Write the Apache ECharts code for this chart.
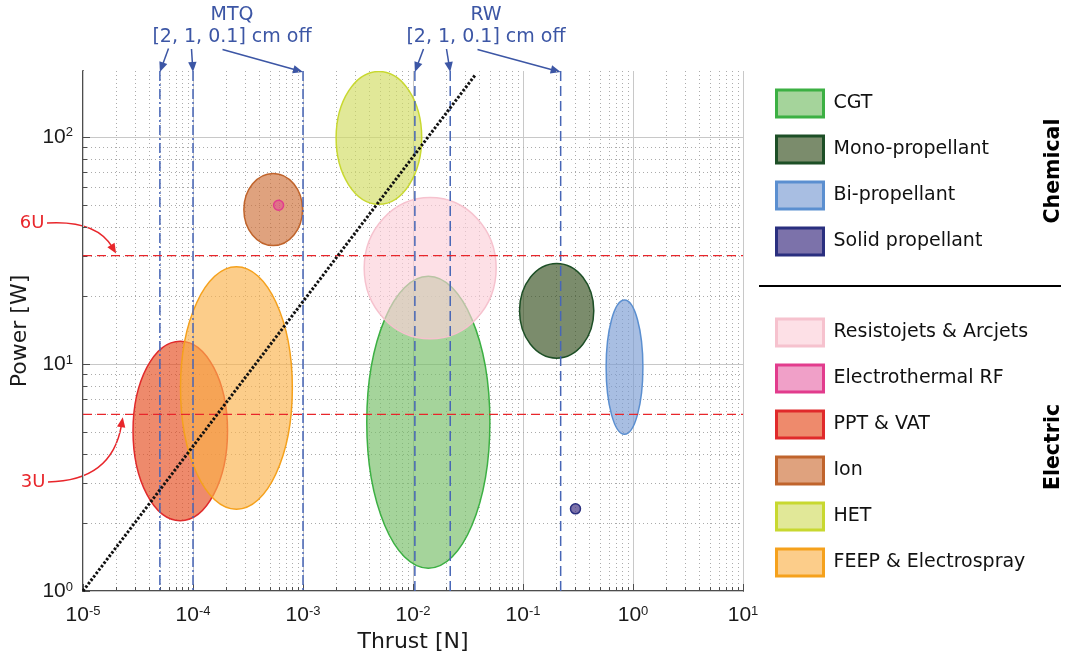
<!DOCTYPE html>
<html>
<head>
<meta charset="utf-8">
<script src="https://cdn.jsdelivr.net/npm/echarts@6/dist/echarts.min.js"></script>
<style>
  html, body { margin: 0; padding: 0; background: #fff; }
  #chart { width: 1067px; height: 659px; }
</style>
</head>
<body>
<div id="chart"></div>
<script>
// ---- Legend groups ----
const chemicalNames = ['CGT', 'Mono-propellant', 'Bi-propellant', 'Solid propellant'];
const electricNames = ['Resistojets & Arcjets', 'Electrothermal RF', 'PPT & VAT', 'Ion', 'HET', 'FEEP & Electrospray'];

// ---- Operating envelopes (drawn in this order, later ones on top) ----
const envelopeNames    = ['HET', 'Ion', 'PPT & VAT', 'FEEP & Electrospray', 'CGT', 'Resistojets & Arcjets', 'Mono-propellant', 'Bi-propellant'];
const envelopeThrustLo = [2.0e-3, 2.9e-4, 2.85e-5, 7.7e-5, 3.8e-3, 3.6e-3, 0.093, 0.57];   // N
const envelopeThrustHi = [1.2e-2, 9.9e-4, 2.06e-4, 8.0e-4, 5.0e-2, 5.7e-2, 0.44, 1.23];    // N
const envelopePowerLo  = [50.5, 33.2, 2.04, 2.29, 1.26, 12.9, 10.6, 4.9];                  // W
const envelopePowerHi  = [194, 69, 12.6, 26.8, 24.3, 54, 27.7, 19.1];                      // W

// ---- Single-point systems ----
const pointNames  = ['Electrothermal RF', 'Solid propellant'];
const pointThrust = [6.0e-4, 0.30];
const pointPower  = [50, 2.3];

// ---- Reference lines ----
const mtqThrust = [5e-5, 1e-4, 1e-3];        // magnetorquer disturbance, [2, 1, 0.1] cm off
const rwThrust  = [0.0104, 0.0218, 0.22];    // reaction wheel, [2, 1, 0.1] cm off
const cubesatPower  = [30, 6];
const cubesatLabels = ['6U', '3U'];
const cubesatArrowThrust = [2e-5, 2.3e-5];
const trendThrust = [1e-5, 0.037];
const trendPower  = [1, 188];

// ---- Axes ----
const thrustMin = 1e-5, thrustMax = 10;
const powerMin = 1, powerMax = 195;
const thrustDecadeExps = [-5, -4, -3, -2, -1, 0, 1];
const powerDecadeExps  = [0, 1, 2];
const minorSteps = [2, 3, 4, 5, 6, 7, 8, 9];

// ---- Colours (appearance over white) ----
const fillColor = {
  'CGT': '#a5d49b', 'Mono-propellant': '#7b8c6c', 'Bi-propellant': '#a8bee2', 'Solid propellant': '#7c72aa',
  'Resistojets & Arcjets': '#fde0e6', 'Electrothermal RF': '#f0a0c8', 'PPT & VAT': '#ee8a6c',
  'Ion': '#dfa27e', 'HET': '#e1e898', 'FEEP & Electrospray': '#fccd8a'
};
const edgeColor = {
  'CGT': '#3cb043', 'Mono-propellant': '#1d4f26', 'Bi-propellant': '#5b8fd0', 'Solid propellant': '#2a2f7f',
  'Resistojets & Arcjets': '#f6c2ce', 'Electrothermal RF': '#e23c8d', 'PPT & VAT': '#e02a2b',
  'Ion': '#c0642c', 'HET': '#c8d830', 'FEEP & Electrospray': '#f5a11c'
};
const FILL_ALPHA = 0.65;
const pointAlpha = { 'Electrothermal RF': 0.5, 'Solid propellant': 0.65 };
const guideBlue = '#4766b6';
const annotBlue = '#3c56a5';
const cubesatRed = '#e8262b';
const inkColor = '#1a1a1a';

// translucent rgba that looks like `hex` when laid over white
function tint(hex, a) {
  const n = parseInt(hex.slice(1), 16);
  const c = [(n >> 16) & 255, (n >> 8) & 255, n & 255].map(v => {
    const b = (v - (1 - a) * 255) / a;
    return Math.max(0, Math.min(255, Math.round(b)));
  });
  return 'rgba(' + c.join(',') + ',' + a + ')';
}

// ---- Grid line data (decades and their 2..9 sub-divisions) ----
const xGridData = [];
thrustDecadeExps.forEach(e => {
  const d = Math.pow(10, e);
  xGridData.push([d, powerMin, 1]);
  if (d < thrustMax) minorSteps.forEach(m => xGridData.push([m * d, powerMin, 0]));
});
const yGridData = [];
powerDecadeExps.forEach(e => {
  const d = Math.pow(10, e);
  yGridData.push([thrustMin, d, 1]);
  minorSteps.forEach(m => { if (m * d < powerMax) yGridData.push([thrustMin, m * d, 0]); });
});

const majorGridStyle = { stroke: '#c8c8c8', lineWidth: 1 };
const minorGridStyle = { stroke: '#ababab', lineWidth: 1, lineDash: [1, 3] };
const tickStyle = { stroke: '#4d4d4d', lineWidth: 1 };

function renderXGrid(params, api) {
  const cs = params.coordSys;
  const x = Math.round(api.coord([api.value(0), api.value(1)])[0]) + 0.5;
  const major = api.value(2) === 1;
  const bottom = cs.y + cs.height;
  return {
    type: 'group',
    children: [
      { type: 'line', shape: { x1: x, y1: cs.y, x2: x, y2: bottom }, style: major ? majorGridStyle : minorGridStyle },
      { type: 'line', shape: { x1: x, y1: bottom, x2: x, y2: bottom - (major ? 7 : 4) }, style: tickStyle }
    ]
  };
}
function renderYGrid(params, api) {
  const cs = params.coordSys;
  const y = Math.round(api.coord([api.value(0), api.value(1)])[1]) + 0.5;
  const major = api.value(2) === 1;
  return {
    type: 'group',
    children: [
      { type: 'line', shape: { x1: cs.x, y1: y, x2: cs.x + cs.width, y2: y }, style: major ? majorGridStyle : minorGridStyle },
      { type: 'line', shape: { x1: cs.x, y1: y, x2: cs.x + (major ? 7 : 4), y2: y }, style: tickStyle }
    ]
  };
}

// full-height / full-width guide lines
function makeVerticalGuide(style) {
  return function (params, api) {
    const cs = params.coordSys;
    const x = api.coord([api.value(0), api.value(1)])[0];
    return { type: 'line', shape: { x1: x, y1: cs.y, x2: x, y2: cs.y + cs.height }, style: style };
  };
}
function makeHorizontalGuide(style) {
  return function (params, api) {
    const cs = params.coordSys;
    const y = api.coord([api.value(0), api.value(1)])[1];
    return { type: 'line', shape: { x1: cs.x, y1: y, x2: cs.x + cs.width, y2: y }, style: style };
  };
}

// ellipse inscribed in the (log-log) thrust/power box
function makeEnvelopeRenderer(name) {
  return function (params, api) {
    const a = api.coord([api.value(0), api.value(2)]);
    const b = api.coord([api.value(1), api.value(3)]);
    return {
      type: 'ellipse',
      shape: {
        cx: (a[0] + b[0]) / 2, cy: (a[1] + b[1]) / 2,
        rx: Math.abs(b[0] - a[0]) / 2, ry: Math.abs(b[1] - a[1]) / 2
      },
      style: { fill: tint(fillColor[name], FILL_ALPHA), stroke: edgeColor[name], lineWidth: 1.5 }
    };
  };
}

const series = [
  { type: 'custom', name: 'xgrid', silent: true, clip: false, z: 1, data: xGridData, encode: { x: 0, y: 1 }, renderItem: renderXGrid },
  { type: 'custom', name: 'ygrid', silent: true, clip: false, z: 1, data: yGridData, encode: { x: 0, y: 1 }, renderItem: renderYGrid }
];

envelopeNames.forEach((name, i) => {
  series.push({
    type: 'custom',
    name: name,
    clip: true,
    z: 2,
    itemStyle: { color: fillColor[name], borderColor: edgeColor[name] },
    data: [[envelopeThrustLo[i], envelopeThrustHi[i], envelopePowerLo[i], envelopePowerHi[i]]],
    encode: { x: [0, 1], y: [2, 3] },
    renderItem: makeEnvelopeRenderer(name)
  });
});

pointNames.forEach((name, i) => {
  series.push({
    type: 'scatter',
    name: name,
    z: 3,
    symbol: 'circle',
    symbolSize: 10,
    itemStyle: { color: tint(fillColor[name], pointAlpha[name]), borderColor: edgeColor[name], borderWidth: 1.5, opacity: 1 },
    data: [[pointThrust[i], pointPower[i]]]
  });
});

// guide lines: MTQ (dash-dot), RW (dashed), CubeSat power (dashed red)
series.push({
  type: 'custom', name: 'mtq', silent: true, clip: false, z: 4,
  data: mtqThrust.map(v => [v, powerMin]), encode: { x: 0, y: 1 },
  renderItem: makeVerticalGuide({ stroke: guideBlue, lineWidth: 1.5, lineDash: [10, 3, 2, 3] })
});
series.push({
  type: 'custom', name: 'rw', silent: true, clip: false, z: 4,
  data: rwThrust.map(v => [v, powerMin]), encode: { x: 0, y: 1 },
  renderItem: makeVerticalGuide({ stroke: guideBlue, lineWidth: 1.5, lineDash: [10, 5] })
});
series.push({
  type: 'custom', name: 'cubesat', silent: true, clip: false, z: 4,
  data: cubesatPower.map(v => [thrustMin, v]), encode: { x: 0, y: 1 },
  renderItem: makeHorizontalGuide({ stroke: cubesatRed, lineWidth: 1.3, lineDash: [9, 5] })
});

// power-to-thrust trend line
series.push({
  type: 'line',
  name: 'trend',
  z: 5,
  showSymbol: false,
  silent: true,
  lineStyle: { color: '#111', width: 3, type: [2.5, 1.8], cap: 'butt' },
  data: trendThrust.map((t, i) => [t, trendPower[i]])
});

function powLabel(v) {
  const l = Math.log10(v);
  const e = Math.round(l);
  if (Math.abs(l - e) > 1e-6) return '';
  return '{b|10}{s|' + e + '}';
}
const labelRich = {
  b: { fontSize: 21, fontFamily: 'Liberation Sans', color: inkColor },
  s: { fontSize: 13, fontFamily: 'Liberation Sans', color: inkColor, verticalAlign: 'top' }
};

function legendFor(names, top) {
  return {
    orient: 'vertical',
    left: 775,
    top: top,
    padding: 0,
    itemWidth: 47,
    itemHeight: 27,
    itemGap: 16,
    icon: 'rect',
    selectedMode: false,
    textStyle: { fontFamily: 'DejaVu Sans', fontSize: 19, color: '#111', padding: [0, 0, 0, 5] },
    data: names.map(n => ({ name: n, icon: 'rect', itemStyle: { color: fillColor[n], borderColor: edgeColor[n], borderWidth: 3 } }))
  };
}

const chart = echarts.init(document.getElementById('chart'), null, { renderer: 'canvas' });
chart.setOption({
  animation: false,
  backgroundColor: '#fff',
  grid: { left: 83, top: 71, width: 660, height: 520 },
  xAxis: {
    type: 'log', logBase: 10, min: thrustMin, max: thrustMax,
    name: 'Thrust [N]', nameLocation: 'middle', nameGap: 38,
    nameTextStyle: { fontFamily: 'DejaVu Sans', fontSize: 22, color: inkColor },
    axisLine: { show: true, onZero: false, lineStyle: { color: '#4d4d4d', width: 2 } },
    axisTick: { show: false },
    splitLine: { show: false },
    axisLabel: { margin: 14, formatter: powLabel, rich: labelRich }
  },
  yAxis: {
    type: 'log', logBase: 10, min: powerMin, max: powerMax,
    name: 'Power [W]', nameLocation: 'middle', nameGap: 44,
    nameTextStyle: { fontFamily: 'DejaVu Sans', fontSize: 22, color: inkColor },
    axisLine: { show: true, onZero: false, lineStyle: { color: '#4d4d4d', width: 2 } },
    axisTick: { show: false },
    splitLine: { show: false },
    axisLabel: { margin: 10, showMaxLabel: false, formatter: powLabel, rich: labelRich }
  },
  legend: [legendFor(chemicalNames, 88.5), legendFor(electricNames, 317.5)],
  series: series
});

// ---- Annotations (text, arrows, group labels) ----
function arrowGroup(x1, y1, x2, y2, color, width, cp) {
  const hl = 10, hw = 4.2;
  const fx = cp ? cp[0] : x1, fy = cp ? cp[1] : y1;
  const dx = x2 - fx, dy = y2 - fy, len = Math.hypot(dx, dy);
  const ux = dx / len, uy = dy / len;
  const bx = x2 - ux * hl, by = y2 - uy * hl;
  const head = {
    type: 'polygon',
    shape: { points: [[x2, y2], [bx - uy * hw, by + ux * hw], [bx + uy * hw, by - ux * hw]] },
    style: { fill: color }
  };
  const body = cp
    ? { type: 'bezierCurve', shape: { x1: x1, y1: y1, cpx1: cp[0], cpy1: cp[1], x2: bx + ux * 2, y2: by + uy * 2 }, style: { stroke: color, lineWidth: width, fill: null } }
    : { type: 'line', shape: { x1: x1, y1: y1, x2: bx + ux * 2, y2: by + uy * 2 }, style: { stroke: color, lineWidth: width } };
  return [body, head];
}

const toPx = (t, p) => chart.convertToPixel({ xAxisIndex: 0, yAxisIndex: 0 }, [t, p]);
const gTop = 71;
const elements = [];

function textEl(x, y, text, size, color, extra) {
  return Object.assign({
    type: 'text', x: x, y: y,
    style: { text: text, fontFamily: 'DejaVu Sans', fontSize: size, fill: color, align: 'center', verticalAlign: 'middle' }
  }, extra || {});
}

// MTQ / RW callouts
const callouts = [
  { title: 'MTQ', cx: 232, values: mtqThrust, starts: [[168.5, 48.5], [191.5, 49], [222.5, 49.5]] },
  { title: 'RW',  cx: 486, values: rwThrust,  starts: [[423.5, 49], [446.5, 49], [477.5, 49.5]] }
];
callouts.forEach(c => {
  elements.push(textEl(c.cx, 15, c.title, 19, annotBlue));
  elements.push(textEl(c.cx, 37, '[2, 1, 0.1] cm off', 19, annotBlue));
  c.values.forEach((v, i) => {
    const p = toPx(v, powerMax);
    arrowGroup(c.starts[i][0], c.starts[i][1], p[0], gTop + 1, annotBlue, 1.5).forEach(e => elements.push(e));
  });
});

// CubeSat power budget callouts
const cubeText = [[32, 223], [33, 482]];
const cubeStart = [[47, 223], [48, 482]];
cubesatPower.forEach((pw, i) => {
  const p = toPx(cubesatArrowThrust[i], pw);
  const tip = i === 0 ? [p[0], p[1] - 2] : [p[0], p[1] + 3];
  const cp = i === 0 ? [96, 220] : [112, 481];
  elements.push(textEl(cubeText[i][0], cubeText[i][1], cubesatLabels[i], 18, cubesatRed));
  arrowGroup(cubeStart[i][0], cubeStart[i][1], tip[0], tip[1], cubesatRed, 1.5, cp).forEach(e => elements.push(e));
});

// legend group headings and separator
elements.push({ type: 'line', shape: { x1: 759, y1: 286, x2: 1061, y2: 286 }, style: { stroke: '#000', lineWidth: 2 } });
elements.push(textEl(1054, 171, 'Chemical', 20.5, '#000', { rotation: Math.PI / 2 }));
elements[elements.length - 1].style.fontWeight = 'bold';
elements.push(textEl(1054, 447, 'Electric', 20.5, '#000', { rotation: Math.PI / 2 }));
elements[elements.length - 1].style.fontWeight = 'bold';

chart.setOption({ graphic: { elements: elements } });
</script>
</body>
</html>
